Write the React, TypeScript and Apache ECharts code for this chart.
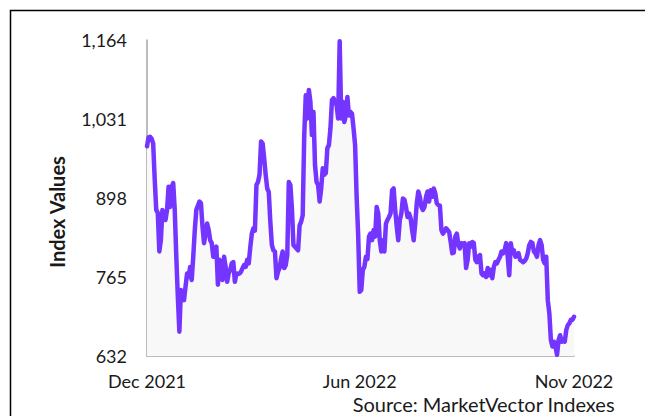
import React, { useEffect, useRef } from "react";
import * as echarts from "echarts";

const xTickLabels = ["Dec 2021", "Jun 2022", "Nov 2022"];
const yTicks = [632, 765, 898, 1031, 1164];
const yTitle = "Index Values";
const sourceText = "Source: MarketVector Indexes";

const values: number[] = [
  985, 1000, 1001, 998, 990, 930, 878, 873, 808, 827,
  878, 870, 861, 878, 917, 883, 917, 923, 878, 800,
  732, 673, 743, 735, 726, 749, 771, 765, 782, 760,
  799, 844, 878, 885, 892, 889, 850, 822, 838, 855,
  844, 827, 822, 799, 810, 816, 752, 794, 782, 760,
  799, 782, 757, 771, 777, 788, 790, 757, 771, 770,
  771, 774, 780, 785, 782, 794, 788,
  815, 838, 847, 843, 920, 925, 937, 993, 990, 965,
  937, 914, 908, 858, 819, 810, 808, 763, 774, 780,
  796, 808, 780, 785, 802, 925, 920, 881, 819, 816,
  813, 810, 852, 858, 869, 1004, 1071, 1032, 1080, 1060,
  1004, 1043, 953, 925, 920, 892, 914, 948, 937, 940,
  982, 987, 1015, 1063, 1066, 1060, 1054, 1032, 1162,
  1032, 1060, 1026, 1037, 1068, 1037, 1043, 1040, 1015, 987,
  900, 835, 740, 743, 777, 782, 799, 795, 833, 838,
  827, 844, 833, 883, 872, 827, 808, 827, 808, 855,
  861, 866, 872, 911, 914, 878, 850, 827, 861, 872,
  897, 895, 883, 866, 872, 864, 844, 827, 855, 889,
  909, 900, 883, 878, 883, 900, 909, 892, 911, 900,
  914, 906, 889, 886, 885, 844, 838,
  842, 847, 844, 841, 824, 805, 806, 833, 838, 819,
  813, 822, 820, 822, 780, 794, 822, 816, 824, 822,
  794, 790, 799, 802, 771, 768, 771, 765, 780, 768,
  777, 763, 782, 790, 788, 794, 799, 808, 805, 810,
  822, 799, 768, 822, 805, 810, 799, 802, 805, 794,
  792, 790, 792, 796, 805, 819, 824, 822, 808, 805,
  799, 819, 827, 819, 794, 788, 799, 726, 704, 659,
  648, 656, 648, 634, 659, 667, 656, 658, 656, 676,
  684, 687, 693, 693, 698,
];

const categories = values.map((_, i) => String(i));
const midIndex = Math.floor((values.length - 1) / 2);
const lastIndex = values.length - 1;

const FONT = "Lato, 'Open Sans', sans-serif";

export default function App() {
  const ref = useRef<HTMLDivElement>(null);
  useEffect(() => {
    if (!ref.current) return;
    const chart = echarts.init(ref.current, undefined, { renderer: "svg" });
    chart.setOption({
      animation: false,
      backgroundColor: "#ffffff",
      grid: { left: 147, right: 71, top: 40, bottom: 60, containLabel: false },
      graphic: [
        {
          type: "rect",
          shape: { x: 10.5, y: 10.5, width: 700, height: 500 },
          style: { fill: "none", stroke: "#000000", lineWidth: 1.5 },
          silent: true,
        },
        {
          type: "text",
          x: 57,
          y: 212,
          rotation: Math.PI / 2,
          style: {
            text: yTitle,
            font: `bold 20px ${FONT}`,
            fill: "#1a1a1a",
            align: "center",
            verticalAlign: "middle",
          },
        },
        {
          type: "text",
          right: 30,
          top: 394,
          style: {
            text: sourceText,
            font: `20px ${FONT}`,
            lineHeight: 19,
            fill: "#1a1a1a",
          },
        },
      ],
      xAxis: {
        type: "category",
        data: categories,
        boundaryGap: false,
        axisLine: { show: true, lineStyle: { color: "#a6a6a6", width: 1.5 } },
        axisTick: { show: false },
        splitLine: { show: false },
        axisLabel: {
          interval: (idx: number) => idx === 0 || idx === midIndex || idx === lastIndex,
          formatter: (_v: string, idx: number) =>
            idx === 0 ? xTickLabels[0] : idx === midIndex ? xTickLabels[1] : idx === lastIndex ? xTickLabels[2] : "",
          margin: 15,
          lineHeight: 20,
          color: "#1a1a1a",
          fontSize: 18,
          fontFamily: FONT,
          showMinLabel: true,
          showMaxLabel: true,
        },
      },
      yAxis: {
        type: "value",
        min: 632,
        max: 1164,
        axisLine: { show: true, lineStyle: { color: "#a6a6a6", width: 1.5 } },
        axisTick: { show: false, customValues: yTicks },
        splitLine: { show: false },
        axisLabel: {
          customValues: yTicks,
          formatter: (v: number) => v.toLocaleString("en-US"),
          margin: 20,
          color: "#1a1a1a",
          fontSize: 18,
          fontFamily: FONT,
        },
      },
      series: [
        {
          type: "line",
          data: values,
          showSymbol: false,
          symbol: "none",
          lineStyle: { color: "#7335ff", width: 4.5, join: "round", cap: "round" },
          areaStyle: { color: "#f8f8f8", origin: "start", opacity: 1 },
          z: 3,
        },
      ],
    });
    return () => chart.dispose();
  }, []);
  return (
    <div
      ref={ref}
      style={{ position: "fixed", left: 0, top: 0, width: 645, height: 416 }}
    />
  );
}
